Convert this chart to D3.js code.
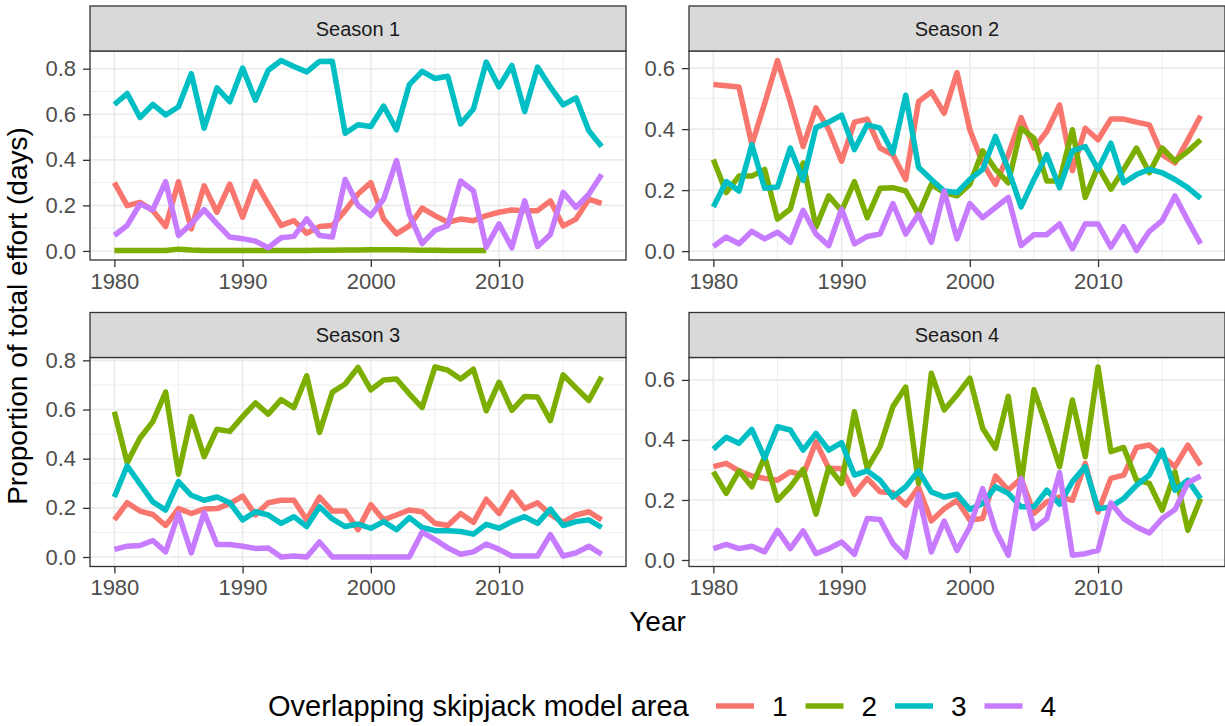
<!DOCTYPE html>
<html lang="en">
  <head>
    <meta http-equiv="Content-Type" content="text/html; charset=utf-8"/>
    <style>
body {
  margin: 0;
  background: #fff;
}
text {
  font-family: "Liberation Sans", Arial, Helvetica, sans-serif;
}
.grid-major {
  stroke: #ebebeb;
  stroke-width: 1.6;
}
.grid-minor {
  stroke: #ebebeb;
  stroke-width: 0.8;
}
.tick-label {
  fill: #4d4d4d;
  font-size: 22px;
}
.series {
  fill: none;
  stroke-width: 5.5;
  stroke-linejoin: round;
}
    </style>
  </head>
  <body>
    <svg id="chart" width="1225" height="726"></svg>
    <script src="https://cdn.jsdelivr.net/npm/d3@7"></script>
    <script>

var years = d3.range(1980, 2019);
var seasons = ['Season 1', 'Season 2', 'Season 3', 'Season 4'];
var areas = ['1', '2', '3', '4'];
var areaColours = ['#F8766D', '#7CAE00', '#00BFC4', '#C77CFF'];
var xTicks = [1980, 1990, 2000, 2010];
var xMinor = [1985, 1995, 2005, 2015];

// proportion of effort, one array per season and area (1980..2018)
var s1a1 = [0.300,0.199,0.213,0.177,0.107,0.304,0.097,0.286,0.170,0.293,0.148,0.304,0.206,0.112,0.133,0.078,0.107,0.112,0.177,0.250,0.300,0.140,0.075,0.110,0.188,0.155,0.126,0.140,0.133,0.155,0.170,0.180,0.177,0.177,0.220,0.110,0.140,0.227,0.209];
// area 2 in season 1 stops at 2009
var s1a2 = [0.002,0.002,0.002,0.002,0.002,0.008,0.004,0.002,0.002,0.002,0.002,0.002,0.002,0.002,0.002,0.002,0.003,0.003,0.004,0.004,0.005,0.005,0.005,0.004,0.003,0.003,0.002,0.002,0.002,0.002];
var s1a3 = [0.643,0.691,0.586,0.643,0.597,0.633,0.778,0.539,0.716,0.655,0.803,0.662,0.793,0.836,0.810,0.786,0.832,0.833,0.517,0.554,0.546,0.636,0.532,0.730,0.788,0.757,0.767,0.557,0.623,0.829,0.720,0.814,0.612,0.807,0.720,0.641,0.672,0.528,0.459];
var s1a4 = [0.068,0.112,0.206,0.181,0.304,0.068,0.119,0.181,0.119,0.061,0.054,0.043,0.014,0.058,0.064,0.141,0.068,0.061,0.314,0.200,0.155,0.228,0.397,0.162,0.032,0.090,0.112,0.307,0.264,0.017,0.119,0.014,0.220,0.020,0.072,0.257,0.191,0.249,0.336];

var s2a1 = [0.546,0.542,0.538,0.349,0.484,0.625,0.490,0.343,0.470,0.398,0.295,0.423,0.433,0.338,0.316,0.235,0.490,0.522,0.452,0.585,0.398,0.289,0.219,0.316,0.438,0.338,0.392,0.479,0.264,0.403,0.365,0.433,0.433,0.423,0.414,0.316,0.289,0.365,0.444];
var s2a2 = [0.300,0.192,0.246,0.246,0.268,0.105,0.138,0.289,0.078,0.181,0.132,0.228,0.110,0.206,0.208,0.197,0.121,0.219,0.192,0.181,0.219,0.329,0.268,0.224,0.403,0.370,0.230,0.230,0.398,0.176,0.278,0.203,0.268,0.338,0.257,0.338,0.295,0.327,0.365];
var s2a3 = [0.145,0.228,0.197,0.349,0.206,0.210,0.338,0.232,0.405,0.423,0.446,0.333,0.414,0.403,0.322,0.511,0.275,0.235,0.197,0.192,0.235,0.268,0.376,0.268,0.145,0.235,0.316,0.208,0.329,0.343,0.268,0.354,0.224,0.251,0.268,0.257,0.235,0.208,0.173];
var s2a4 = [0.015,0.046,0.024,0.065,0.040,0.062,0.029,0.134,0.056,0.018,0.138,0.024,0.048,0.056,0.156,0.056,0.121,0.029,0.197,0.040,0.156,0.110,0.143,0.176,0.018,0.054,0.054,0.089,0.008,0.089,0.089,0.013,0.080,0.002,0.065,0.100,0.181,0.100,0.024];

var s3a1 = [0.151,0.221,0.187,0.173,0.128,0.197,0.177,0.195,0.197,0.217,0.248,0.171,0.221,0.231,0.231,0.151,0.244,0.187,0.187,0.111,0.213,0.151,0.171,0.191,0.184,0.137,0.128,0.177,0.141,0.235,0.177,0.264,0.197,0.221,0.173,0.141,0.171,0.184,0.151];
var s3a2 = [0.591,0.384,0.484,0.551,0.671,0.337,0.571,0.408,0.520,0.511,0.571,0.627,0.581,0.640,0.608,0.737,0.507,0.671,0.704,0.771,0.680,0.720,0.724,0.664,0.608,0.773,0.760,0.724,0.764,0.595,0.711,0.597,0.653,0.651,0.555,0.741,0.688,0.637,0.733];
var s3a3 = [0.244,0.371,0.297,0.224,0.191,0.307,0.251,0.231,0.244,0.221,0.151,0.184,0.171,0.137,0.164,0.124,0.204,0.155,0.124,0.134,0.117,0.144,0.111,0.160,0.120,0.107,0.107,0.104,0.093,0.133,0.117,0.144,0.164,0.137,0.195,0.128,0.144,0.151,0.120];
var s3a4 = [0.031,0.044,0.047,0.067,0.021,0.177,0.017,0.181,0.051,0.051,0.044,0.035,0.037,0.000,0.004,0.000,0.061,0.000,0.000,0.000,0.000,0.000,0.000,0.000,0.101,0.071,0.037,0.011,0.021,0.053,0.031,0.004,0.004,0.004,0.091,0.004,0.017,0.044,0.011];

var s4a1 = [0.311,0.322,0.297,0.280,0.272,0.266,0.294,0.283,0.394,0.305,0.305,0.219,0.272,0.227,0.224,0.183,0.242,0.130,0.171,0.199,0.133,0.138,0.280,0.233,0.272,0.155,0.194,0.210,0.199,0.322,0.160,0.272,0.283,0.375,0.383,0.346,0.311,0.383,0.316];
var s4a2 = [0.294,0.222,0.297,0.244,0.344,0.199,0.244,0.302,0.153,0.308,0.255,0.494,0.305,0.378,0.511,0.576,0.255,0.622,0.500,0.550,0.606,0.439,0.372,0.545,0.255,0.567,0.444,0.311,0.533,0.344,0.643,0.361,0.375,0.266,0.255,0.166,0.294,0.099,0.205];
var s4a3 = [0.369,0.409,0.389,0.435,0.339,0.444,0.433,0.366,0.422,0.366,0.391,0.283,0.297,0.266,0.210,0.244,0.297,0.227,0.210,0.219,0.168,0.188,0.244,0.222,0.177,0.177,0.233,0.186,0.261,0.311,0.171,0.177,0.205,0.249,0.283,0.366,0.233,0.266,0.205];
var s4a4 = [0.038,0.052,0.038,0.046,0.027,0.099,0.038,0.097,0.021,0.038,0.060,0.019,0.138,0.135,0.055,0.010,0.219,0.027,0.130,0.032,0.110,0.238,0.099,0.016,0.272,0.105,0.138,0.291,0.016,0.021,0.032,0.190,0.138,0.110,0.090,0.138,0.168,0.257,0.280];

var panelData = [
  [s1a1, s1a2, s1a3, s1a4],
  [s2a1, s2a2, s2a3, s2a4],
  [s3a1, s3a2, s3a3, s3a4],
  [s4a1, s4a2, s4a3, s4a4]
];

var svg = d3.select('#chart');
var panelW = 536, panelH = 209, stripH = 45;
var panelPos = [[90, 51], [689, 51], [90, 357.5], [689, 357.5]];

var x = d3.scaleLinear()
  .domain([1980 - 1.9, 2018 + 1.9])
  .range([0, panelW]);

seasons.forEach(function(season, p) {
  var series = panelData[p];
  var allVals = d3.merge(series);
  var lo = d3.min(allVals), hi = d3.max(allVals);
  var pad = (hi - lo) * 0.05;
  var y = d3.scaleLinear()
    .domain([lo - pad, hi + pad])
    .range([panelH, 0]);

  var yMajor = d3.range(0, 1.01, 0.2).filter(function(v) {
    return v >= y.domain()[0] && v <= y.domain()[1];
  });
  var yMinor = d3.range(0.1, 1.01, 0.2).filter(function(v) {
    return v >= y.domain()[0] && v <= y.domain()[1];
  });

  var g = svg.append('g')
    .attr('transform', 'translate(' + panelPos[p][0] + ',' + panelPos[p][1] + ')');

  // minor then major grid
  g.selectAll('.ym').data(yMinor).enter().append('line')
    .attr('class', 'grid-minor')
    .attr('x1', 0).attr('x2', panelW)
    .attr('y1', function(d) { return y(d); })
    .attr('y2', function(d) { return y(d); });
  g.selectAll('.xm').data(xMinor).enter().append('line')
    .attr('class', 'grid-minor')
    .attr('y1', 0).attr('y2', panelH)
    .attr('x1', function(d) { return x(d); })
    .attr('x2', function(d) { return x(d); });
  g.selectAll('.yM').data(yMajor).enter().append('line')
    .attr('class', 'grid-major')
    .attr('x1', 0).attr('x2', panelW)
    .attr('y1', function(d) { return y(d); })
    .attr('y2', function(d) { return y(d); });
  g.selectAll('.xM').data(xTicks).enter().append('line')
    .attr('class', 'grid-major')
    .attr('y1', 0).attr('y2', panelH)
    .attr('x1', function(d) { return x(d); })
    .attr('x2', function(d) { return x(d); });

  var line = d3.line()
    .x(function(d, i) { return x(years[i]); })
    .y(function(d) { return y(d); });

  series.forEach(function(vals, a) {
    g.append('path')
      .attr('class', 'series')
      .attr('d', line(vals))
      .style('stroke', areaColours[a]);
  });

  // border
  g.append('rect')
    .attr('width', panelW).attr('height', panelH)
    .attr('fill', 'none')
    .attr('stroke', '#333333')
    .attr('stroke-width', 1.3);

  // strip
  g.append('rect')
    .attr('y', -stripH)
    .attr('width', panelW).attr('height', stripH)
    .attr('fill', '#d9d9d9')
    .attr('stroke', '#333333')
    .attr('stroke-width', 1.3);
  g.append('text')
    .attr('x', panelW / 2)
    .attr('y', -stripH / 2 + 7)
    .attr('text-anchor', 'middle')
    .style('font-size', '20px')
    .style('fill', '#1a1a1a')
    .text(season);

  // y axis
  var yAxis = d3.axisLeft(y)
    .tickValues(yMajor)
    .tickSize(7)
    .tickPadding(7)
    .tickFormat(d3.format('.1f'));
  var ya = g.append('g').call(yAxis);
  ya.select('.domain').remove();
  ya.selectAll('line').attr('stroke', '#333333').attr('stroke-width', 1.3);
  ya.selectAll('text')
    .attr('class', 'tick-label')
    .attr('font-family', null).attr('font-size', null);

  // x axis
  var xAxis = d3.axisBottom(x)
    .tickValues(xTicks)
    .tickSize(7)
    .tickPadding(6)
    .tickFormat(d3.format('d'));
  var xa = g.append('g')
    .attr('transform', 'translate(0,' + panelH + ')')
    .call(xAxis);
  xa.select('.domain').remove();
  xa.selectAll('line').attr('stroke', '#333333').attr('stroke-width', 1.3);
  xa.selectAll('text')
    .attr('class', 'tick-label')
    .attr('font-family', null).attr('font-size', null);
});

// axis titles
svg.append('text')
  .attr('x', 657.5)
  .attr('y', 631)
  .attr('text-anchor', 'middle')
  .style('font-size', '28px')
  .style('fill', '#000')
  .text('Year');

svg.append('text')
  .attr('transform', 'translate(27,316) rotate(-90)')
  .attr('text-anchor', 'middle')
  .style('font-size', '28px')
  .style('fill', '#000')
  .text('Proportion of total effort (days)');

// legend
var legend = svg.append('g').attr('transform', 'translate(0,706)');
legend.append('text')
  .attr('x', 268)
  .attr('y', 10)
  .style('font-size', '29px')
  .style('fill', '#000')
  .text('Overlapping skipjack model area');

var keys = legend.selectAll('.key')
  .data(areas)
  .enter().append('g')
  .attr('transform', function(d, i) { return 'translate(' + (716 + i * 89.5) + ',0)'; });
keys.append('line')
  .attr('x1', 0).attr('x2', 38)
  .attr('y1', 0).attr('y2', 0)
  .attr('stroke-width', 5.5)
  .attr('stroke', function(d, i) { return areaColours[i]; });
keys.append('text')
  .attr('x', 56)
  .attr('y', 10)
  .style('font-size', '28px')
  .style('fill', '#000')
  .text(function(d) { return d; });

    </script>
  </body>
</html>
